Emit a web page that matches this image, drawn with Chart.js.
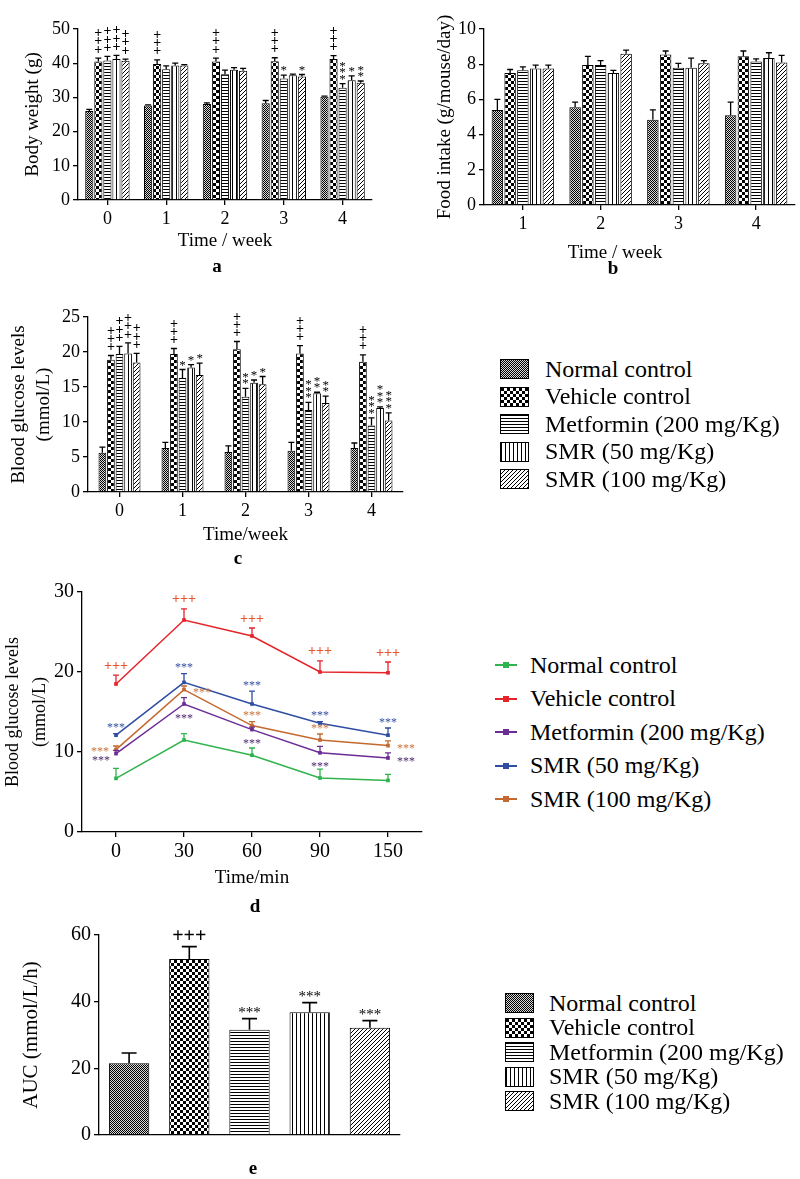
<!DOCTYPE html>
<html>
<head>
<meta charset="utf-8">
<script src="https://cdn.jsdelivr.net/npm/chart.js@4.4.0/dist/chart.umd.min.js"></script>
<style>
body { margin: 0; background: #fff; width: 800px; height: 1179px; position: relative; overflow: hidden;
  font-family: "Liberation Serif", "Times New Roman", serif; color: #000; }
canvas { position: absolute; }
.tag { position: absolute; font-weight: bold; font-size: 19px; transform: translate(-50%, -50%); }
.axtitle { position: absolute; font-size: 19px; transform: translate(-50%, -50%); white-space: nowrap; }
.lg { position: absolute; display: flex; align-items: center; font-size: 24px; white-space: nowrap; }
.lg canvas { position: static; border: 1px solid #000; box-sizing: border-box; }
.lg .mk { position: relative; width: 22px; height: 6px; }
.lg .mk i { position: absolute; left: 0; right: 0; top: 2px; height: 2px; }
.lg .mk b { position: absolute; left: 8px; top: 0; width: 6px; height: 6px; }
</style>
</head>
<body>
<canvas id="chartA" width="400" height="252" style="left:0;top:0"></canvas>
<canvas id="chartB" width="400" height="260" style="left:400px;top:0"></canvas>
<canvas id="chartC" width="410" height="276" style="left:0;top:270px"></canvas>
<canvas id="chartD" width="440" height="329" style="left:0;top:560px"></canvas>
<canvas id="chartE" width="420" height="250" style="left:0;top:900px"></canvas>

<div class="axtitle" style="left:615px;top:252px">Time / week</div>
<div class="tag" style="left:217px;top:266px">a</div>
<div class="tag" style="left:613px;top:268px">b</div>
<div class="tag" style="left:238px;top:558px">c</div>
<div class="tag" style="left:255px;top:906px">d</div>
<div class="tag" style="left:253px;top:1168px">e</div>

<script>
'use strict'

// ---------- data ----------
const groupNames = ['Normal control', 'Vehicle control', 'Metformin (200 mg/Kg)', 'SMR (50 mg/Kg)', 'SMR (100 mg/Kg)'];

// a: body weight
const weeksA = ['0', '1', '2', '3', '4'];
const weightNormal = [26.0, 27.6, 28.1, 28.3, 30.2];
const weightVehicle = [40.5, 39.8, 40.5, 40.6, 41.2];
const weightMetformin = [40.8, 38.2, 36.8, 35.5, 32.8];
const weightSmr50 = [41.2, 39.3, 38.1, 36.5, 35.0];
const weightSmr100 = [40.7, 39.3, 37.8, 36.1, 34.3];
const weightNormalErr = [0.5, 0.2, 0.3, 0.8, 0.2];
const weightVehicleErr = [1.0, 1.2, 1.0, 1.0, 1.0];
const weightMetforminErr = [1.2, 1.0, 1.2, 1.0, 1.2];
const weightSmr50Err = [1.1, 0.7, 0.6, 0.3, 1.3];
const weightSmr100Err = [0.5, 0.3, 0.7, 0.6, 0.5];
const weightVehicleSig = ['+++', '+++', '+++', '+++', '+++'];
const weightMetforminSig = ['+++', '', '', '*', '***'];
const weightSmr50Sig = ['+++', '', '', '', '*'];
const weightSmr100Sig = ['+++', '', '', '*', '**'];

// b: food intake
const weeksB = ['1', '2', '3', '4'];
const foodNormal = [5.4, 5.55, 4.85, 5.1];
const foodVehicle = [7.5, 7.95, 8.55, 8.45];
const foodMetformin = [7.65, 7.95, 7.8, 8.15];
const foodSmr50 = [7.75, 7.5, 7.8, 8.35];
const foodSmr100 = [7.75, 8.6, 8.05, 8.1];
const foodNormalErr = [0.6, 0.3, 0.55, 0.75];
const foodVehicleErr = [0.2, 0.5, 0.2, 0.3];
const foodMetforminErr = [0.2, 0.25, 0.25, 0.15];
const foodSmr50Err = [0.2, 0.15, 0.55, 0.3];
const foodSmr100Err = [0.2, 0.2, 0.15, 0.4];

// c: blood glucose per week
const weeksC = ['0', '1', '2', '3', '4'];
const glucNormal = [5.6, 6.3, 5.7, 5.9, 6.3];
const glucVehicle = [18.9, 19.7, 20.4, 19.8, 18.6];
const glucMetformin = [19.7, 16.3, 13.6, 11.7, 9.5];
const glucSmr50 = [19.8, 17.8, 15.6, 14.1, 12.0];
const glucSmr100 = [18.5, 16.7, 15.4, 12.7, 10.2];
const glucNormalErr = [0.8, 0.8, 0.9, 1.2, 0.7];
const glucVehicleErr = [0.6, 0.8, 1.1, 1.1, 1.0];
const glucMetforminErr = [1.1, 1.2, 1.2, 1.1, 1.1];
const glucSmr50Err = [1.5, 0.4, 0.4, 0.15, 0.15];
const glucSmr100Err = [1.3, 1.7, 1.1, 1.0, 1.1];
const glucVehicleSig = ['+++', '+++', '+++', '+++', '+++'];
const glucMetforminSig = ['+++', '*', '**', '***', '***'];
const glucSmr50Sig = ['+++', '*', '*', '**', '***'];
const glucSmr100Sig = ['+++', '*', '*', '**', '***'];

// d: glucose tolerance
const minutesD = ['0', '30', '60', '90', '150'];
const ogttNormal = [6.7, 11.5, 9.6, 6.75, 6.45];
const ogttVehicle = [18.5, 26.5, 24.5, 20.0, 19.9];
const ogttMetformin = [9.8, 16.0, 12.8, 9.9, 9.25];
const ogttSmr50 = [12.1, 18.7, 16.0, 13.6, 12.1];
const ogttSmr100 = [10.3, 17.8, 13.3, 11.5, 10.8];
const ogttNormalErr = [1.25, 0.8, 0.9, 1.1, 0.75];
const ogttVehicleErr = [1.1, 1.4, 1.0, 1.4, 1.35];
const ogttMetforminErr = [0.4, 0.8, 0.3, 0.8, 0.65];
const ogttSmr50Err = [0.2, 1.1, 1.6, 0.2, 0.9];
const ogttSmr100Err = [0.45, 0.45, 0.5, 0.75, 0.6];
const ogttVehicleSig = ['+++', '+++', '+++', '+++', '+++'];
const ogttTreatedSig = ['***', '***', '***', '***', '***'];

// e: AUC
const aucValues = [21.5, 52.8, 31.6, 36.8, 32.2];
const aucErr = [3.1, 3.7, 3.3, 2.9, 2.1];
const aucSig = ['', '+++', '***', '***', '***'];

// ---------- style ----------
const serif = '"Liberation Serif", "Times New Roman", serif';
Chart.defaults.font.family = serif;
Chart.defaults.color = '#000';
Chart.defaults.animation = false;

const lineColors = ['#2fb34c', '#e5232b', '#6b2c96', '#2f4ea3', '#c4692f'];
const sigColorsD = ['#000', '#e8552e', '#4b2a6e', '#3550a3', '#c8743c'];

// where the stars of panel d sit next to each point
const placeVehicle = ['up', 'up', 'up', 'up', 'up'];
const placeMetformin = ['lowleft', 'down', 'down', 'down', 'right'];
const placeSmr50 = ['up', 'up', 'up', 'up', 'up'];
const placeSmr100 = ['left', 'right', 'up', 'up', 'right'];

function makePattern(kind) {
    const c = document.createElement('canvas');
    let w = 4, h = 4;
    if (kind === 'checker') { w = 6; h = 6; }
    if (kind === 'hlines') { w = 4; h = 3; }
    c.width = w; c.height = h;
    const x = c.getContext('2d');
    x.fillStyle = kind === 'fine' ? '#d8d8d8' : '#fff';
    x.fillRect(0, 0, w, h);
    x.fillStyle = '#000';
    if (kind === 'fine') {
        for (let i = 0; i < w; i++) for (let j = 0; j < h; j++) if ((i + j) % 2 === 0) x.fillRect(i, j, 1, 1);
    } else if (kind === 'checker') {
        x.fillRect(0, 0, 3, 3); x.fillRect(3, 3, 3, 3);
    } else if (kind === 'hlines') {
        x.fillRect(0, 0, w, 1);
    } else if (kind === 'vlines') {
        x.fillRect(0, 0, 1, h);
    } else if (kind === 'diag') {
        for (let i = 0; i < 4; i++) x.fillRect(i, 3 - i, 1, 1);
    }
    return x.createPattern(c, 'repeat');
}
const patterns = ['fine', 'checker', 'hlines', 'vlines', 'diag'].map(makePattern);

// error bars (upper side only, like the original)
const errorBars = {
    id: 'errorBars',
    afterDatasetsDraw(chart, args, opts) {
        const ctx = chart.ctx;
        const y = chart.scales.y;
        chart.data.datasets.forEach((ds, di) => {
            if (!ds.errors) return;
            const meta = chart.getDatasetMeta(di);
            ctx.save();
            ctx.lineWidth = opts.width || 1.3;
            ctx.strokeStyle = ds.errorColor || '#000';
            meta.data.forEach((el, i) => {
                const top = y.getPixelForValue(ds.data[i] + ds.errors[i]);
                const half = (opts.cap || 6) / 2;
                ctx.beginPath();
                ctx.moveTo(el.x, el.y);
                ctx.lineTo(el.x, top);
                ctx.moveTo(el.x - half, top);
                ctx.lineTo(el.x + half, top);
                ctx.stroke();
            });
            ctx.restore();
        });
    }
};

// significance marks (+ and *)
const sigMarks = {
    id: 'sigMarks',
    afterDatasetsDraw(chart, args, opts) {
        if (!opts.mode) return;
        const ctx = chart.ctx;
        const y = chart.scales.y;
        ctx.save();
        ctx.textAlign = 'center';
        ctx.textBaseline = 'middle';
        chart.data.datasets.forEach((ds, di) => {
            if (!ds.sig) return;
            const meta = chart.getDatasetMeta(di);
            meta.data.forEach((el, i) => {
                const txt = ds.sig[i];
                if (!txt) return;
                const top = y.getPixelForValue(ds.data[i] + ds.errors[i]);
                const star = txt[0] === '*';
                const size = star ? opts.starSize : opts.plusSize;
                ctx.font = (star ? '' : 'bold ') + size + 'px ' + serif;
                ctx.fillStyle = ds.sigColor || '#000';
                const drop = star ? size * 0.28 : 0;
                if (opts.mode === 'stack') {
                    const step = star ? 6.5 : 8.3;
                    for (let k = 0; k < txt.length; k++) {
                        ctx.fillText(txt[k], el.x, top - 8 - k * step + drop);
                    }
                } else if (opts.mode === 'row') {
                    ctx.fillText(txt, el.x, top - 10 + drop);
                } else {
                    const where = ds.sigPlace[i];
                    let px = el.x, py = top - 9;
                    if (where === 'down') py = el.y + 11;
                    if (where === 'left') { px = el.x - 16; py = el.y - 1; }
                    if (where === 'lowleft') { px = el.x - 15; py = el.y + 4; }
                    if (where === 'right') { px = el.x + 18; py = el.y; }
                    ctx.fillText(txt, px, py + drop);
                }
            });
        });
        ctx.restore();
    }
};

function yAxis(max, step, width, title, tickSize, titleFont, titlePad) {
    return {
        min: 0, max: max,
        ticks: { stepSize: step, font: { size: tickSize }, color: '#000', padding: 3 },
        grid: { drawOnChartArea: false, drawTicks: true, tickLength: 5, color: '#000', lineWidth: 1.3 },
        border: { display: true, color: '#000', width: 1.3 },
        title: { display: true, text: title, font: titleFont, padding: { top: titlePad, bottom: 0 } },
        afterFit(scale) { scale.width = width; }
    };
}

function xAxis(height, title, tickSize, showTicks) {
    return {
        type: 'category',
        offset: true,
        ticks: { display: showTicks, font: { size: tickSize }, color: '#000', padding: 3 },
        grid: { drawOnChartArea: false, drawTicks: showTicks, tickLength: 5, offset: false, color: '#000', lineWidth: 1.3 },
        border: { display: true, color: '#000', width: 1.3 },
        title: { display: !!title, text: title, font: { size: 19 }, padding: { top: 0, bottom: 0 } },
        afterFit(scale) { scale.height = height; }
    };
}

function barSets(series, errs, sigs, barPct, catPct) {
    return series.map((data, k) => ({
        label: groupNames[k],
        data: data,
        errors: errs[k],
        sig: sigs ? sigs[k] : null,
        backgroundColor: patterns[k],
        borderColor: '#000',
        borderWidth: 1,
        barPercentage: barPct,
        categoryPercentage: catPct
    }));
}

function baseOptions(pad) {
    return {
        responsive: false,
        layout: { padding: pad },
        plugins: { legend: { display: false }, tooltip: { enabled: false } }
    };
}

// ---------- a ----------
const optsA = baseOptions({ left: 0, top: 29, right: 28, bottom: 0 });
optsA.scales = {
    x: xAxis(52, 'Time / week', 18, true),
    y: yAxis(50, 10, 78, 'Body weight (g)', 18, { size: 19 }, 22)
};
optsA.plugins.errorBars = { cap: 6 };
optsA.plugins.sigMarks = { mode: 'stack', plusSize: 14, starSize: 13 };
new Chart(document.getElementById('chartA'), {
    type: 'bar',
    data: {
        labels: weeksA,
        datasets: barSets(
            [weightNormal, weightVehicle, weightMetformin, weightSmr50, weightSmr100],
            [weightNormalErr, weightVehicleErr, weightMetforminErr, weightSmr50Err, weightSmr100Err],
            [null, weightVehicleSig, weightMetforminSig, weightSmr50Sig, weightSmr100Sig], 0.9, 0.77)
    },
    options: optsA,
    plugins: [errorBars, sigMarks]
});

// ---------- b ----------
const optsB = baseOptions({ left: 0, top: 29, right: 5, bottom: 0 });
optsB.scales = {
    x: xAxis(55, '', 18, true),
    y: yAxis(10, 2, 84, 'Food intake (g/mouse/day)', 18, { size: 19 }, 34)
};
optsB.plugins.errorBars = { cap: 6 };
new Chart(document.getElementById('chartB'), {
    type: 'bar',
    data: {
        labels: weeksB,
        datasets: barSets(
            [foodNormal, foodVehicle, foodMetformin, foodSmr50, foodSmr100],
            [foodNormalErr, foodVehicleErr, foodMetforminErr, foodSmr50Err, foodSmr100Err],
            null, 0.9, 0.82)
    },
    options: optsB,
    plugins: [errorBars]
});

// ---------- c ----------
const optsC = baseOptions({ left: 0, top: 47, right: 7, bottom: 0 });
optsC.scales = {
    x: xAxis(54, 'Time/week', 18, true),
    y: yAxis(25, 5, 88, ['Blood glucose levels', '(mmol/L)'], 18, { size: 19, lineHeight: 1.32 }, 6)
};
optsC.plugins.errorBars = { cap: 6 };
optsC.plugins.sigMarks = { mode: 'stack', plusSize: 14, starSize: 13 };
new Chart(document.getElementById('chartC'), {
    type: 'bar',
    data: {
        labels: weeksC,
        datasets: barSets(
            [glucNormal, glucVehicle, glucMetformin, glucSmr50, glucSmr100],
            [glucNormalErr, glucVehicleErr, glucMetforminErr, glucSmr50Err, glucSmr100Err],
            [null, glucVehicleSig, glucMetforminSig, glucSmr50Sig, glucSmr100Sig], 0.9, 0.68)
    },
    options: optsC,
    plugins: [errorBars, sigMarks]
});

// ---------- d ----------
const ogttSeries = [ogttNormal, ogttVehicle, ogttMetformin, ogttSmr50, ogttSmr100];
const ogttErrs = [ogttNormalErr, ogttVehicleErr, ogttMetforminErr, ogttSmr50Err, ogttSmr100Err];
const ogttSigs = [null, ogttVehicleSig, ogttTreatedSig, ogttTreatedSig, ogttTreatedSig];
const ogttPlaces = [null, placeVehicle, placeMetformin, placeSmr50, placeSmr100];
const optsD = baseOptions({ left: 0, top: 32, right: 18, bottom: 0 });
optsD.scales = {
    x: xAxis(57, 'Time/min', 20, true),
    y: yAxis(30, 10, 82, ['Blood glucose levels', '(mmol/L)'], 20, { size: 18, lineHeight: 1.5 }, 0)
};
optsD.plugins.errorBars = { cap: 6, width: 1.3 };
optsD.plugins.sigMarks = { mode: 'place', plusSize: 14, starSize: 12 };
new Chart(document.getElementById('chartD'), {
    type: 'line',
    data: {
        labels: minutesD,
        datasets: ogttSeries.map((data, k) => ({
            label: groupNames[k],
            data: data,
            errors: ogttErrs[k],
            errorColor: lineColors[k],
            sig: ogttSigs[k],
            sigColor: sigColorsD[k],
            sigPlace: ogttPlaces[k],
            borderColor: lineColors[k],
            backgroundColor: lineColors[k],
            borderWidth: 1.5,
            pointStyle: 'rect',
            pointRadius: 2.6,
            pointBorderWidth: 0,
            tension: 0,
            fill: false
        }))
    },
    options: optsD,
    plugins: [errorBars, sigMarks]
});

// ---------- e ----------
const optsE = baseOptions({ left: 0, top: 35, right: 20, bottom: 0 });
optsE.scales = {
    x: xAxis(6, '', 17, false),
    y: yAxis(60, 20, 99, 'AUC (mmol/L/h)', 20, { size: 21 }, 19)
};
optsE.plugins.errorBars = { cap: 15, width: 1.6 };
optsE.plugins.sigMarks = { mode: 'row', plusSize: 20, starSize: 15 };
new Chart(document.getElementById('chartE'), {
    type: 'bar',
    data: {
        labels: groupNames,
        datasets: [{
            label: 'AUC',
            data: aucValues,
            errors: aucErr,
            sig: aucSig,
            backgroundColor: patterns,
            borderColor: '#000',
            borderWidth: 1,
            barPercentage: 0.67,
            categoryPercentage: 1
        }]
    },
    options: optsE,
    plugins: [errorBars, sigMarks]
});

// ---------- legends ----------
function patternLegend(left, textLeft, firstCenter, step) {
    groupNames.forEach((name, k) => {
        const row = document.createElement('div');
        row.className = 'lg';
        row.style.left = left + 'px';
        row.style.top = (firstCenter + k * step - 13) + 'px';
        row.style.height = '26px';
        const sw = document.createElement('canvas');
        sw.width = 27; sw.height = 18;
        const sctx = sw.getContext('2d');
        sctx.fillStyle = patterns[k];
        sctx.fillRect(0, 0, 27, 18);
        const label = document.createElement('span');
        label.textContent = name;
        label.style.marginLeft = (textLeft - left - 27) + 'px';
        row.appendChild(sw);
        row.appendChild(label);
        document.body.appendChild(row);
    });
}
patternLegend(500, 543, 369, 27.5);
patternLegend(505, 547, 1003, 24.5);

groupNames.forEach((name, k) => {
    const row = document.createElement('div');
    row.className = 'lg';
    row.style.left = '495px';
    row.style.top = (665 + k * 33.5 - 13) + 'px';
    row.style.height = '26px';
    row.innerHTML = '<span class="mk"><i style="background:' + lineColors[k] + '"></i><b style="background:' +
        lineColors[k] + '"></b></span><span style="margin-left:13px">' + name + '</span>';
    document.body.appendChild(row);
});
</script>
</body>
</html>
